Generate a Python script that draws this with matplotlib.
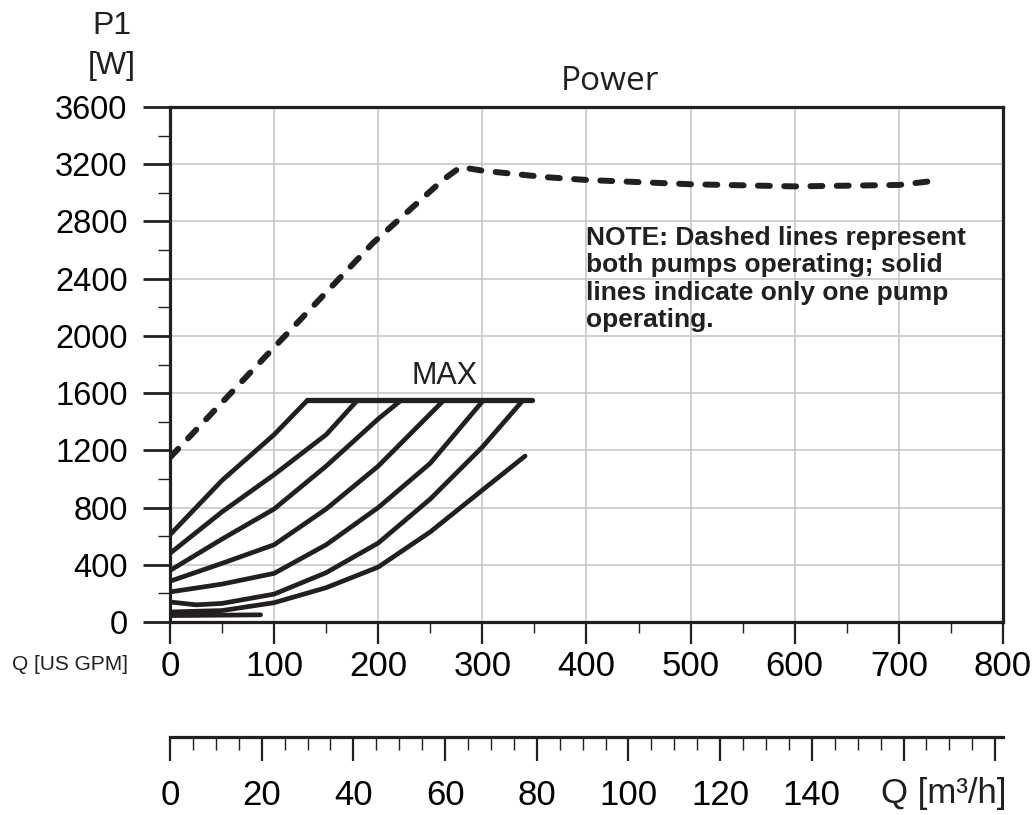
import numpy as np
import matplotlib
matplotlib.use("Agg")
import matplotlib.pyplot as plt
from matplotlib.ticker import MultipleLocator

plt.rcParams["font.family"] = ["Liberation Sans", "DejaVu Sans"]

# dashed curve: both pumps operating (x in US GPM, y in W)
dual_q = [0, 100, 195, 262, 279, 300, 360, 400, 500, 600, 700, 735]
dual_p = [1150, 1920, 2650, 3090, 3180, 3155, 3110, 3090, 3060, 3045, 3055, 3085]

# solid curves: one pump operating
single_curves = [
    ([0, 50, 100, 132], [610, 990, 1310, 1550]),
    ([0, 50, 100, 150, 180], [480, 770, 1030, 1310, 1550]),
    ([0, 50, 100, 150, 200, 222], [360, 580, 790, 1090, 1420, 1550]),
    ([0, 50, 100, 150, 200, 263], [285, 410, 540, 790, 1090, 1550]),
    ([0, 50, 100, 150, 200, 250, 301], [210, 265, 340, 540, 800, 1110, 1550]),
    ([0, 25, 50, 100, 150, 200, 250, 300, 339], [140, 120, 130, 195, 345, 552, 860, 1223, 1550]),
    ([0, 50, 100, 150, 200, 250, 300, 341], [70, 80, 135, 240, 384, 630, 922, 1160]),
    ([0, 50, 87], [45, 48, 50]),
]
max_q = [132, 348]
max_p = [1550, 1550]

gpm_ticks = list(range(0, 801, 100))
p_ticks = list(range(0, 3601, 400))
m3h_ticks = list(range(0, 181, 20))
m3h_labels = ["0", "20", "40", "60", "80", "100", "120", "140", "", ""]
GPM_TO_M3H = 0.22712

INK = "#231f20"
W, H = 1035, 815

fig = plt.figure(figsize=(W / 100, H / 100), dpi=100)
ax = fig.add_axes([170 / W, 193 / H, 833 / W, 515 / H])

ax.plot(dual_q, dual_p, color=INK, lw=4.3, dashes=(2.0, 2.4),
        dash_capstyle="round", zorder=3)
for q, p in single_curves:
    ax.plot(q, p, color=INK, lw=3.4, solid_capstyle="round",
            solid_joinstyle="round", zorder=3)
ax.plot(max_q, max_p, color=INK, lw=3.8, solid_capstyle="round", zorder=3)

ax.set_xlim(0, 800)
ax.set_ylim(0, 3600)
ax.set_xticks(gpm_ticks)
ax.set_yticks(p_ticks)
ax.xaxis.set_minor_locator(MultipleLocator(50))
ax.yaxis.set_minor_locator(MultipleLocator(200))
ax.grid(True, which="major", color="#c8c8c8", lw=1.2, zorder=0)
ax.set_axisbelow(True)

for sp in ax.spines.values():
    sp.set_linewidth(2.3)
    sp.set_color(INK)

ax.tick_params(axis="y", which="major", direction="out", length=19.5,
               width=2.0, labelsize=23.5, pad=11, color=INK)
ax.tick_params(axis="y", which="minor", direction="out", length=9,
               width=1.0, color=INK)
ax.tick_params(axis="x", which="major", direction="out", length=16,
               width=1.6, labelsize=25, pad=4, color=INK)
ax.tick_params(axis="x", which="minor", direction="out", length=8,
               width=1.0, color=INK)

ax.text(264, 1720, "MAX", fontsize=22, ha="center", va="center", color=INK)
ax.text(400, 2770, "NOTE: Dashed lines represent\nboth pumps operating; solid\n"
        "lines indicate only one pump\noperating.", fontsize=19,
        fontweight="bold", ha="left", va="top", linespacing=1.18, color=INK)

# second flow scale in m3/h
ax2 = fig.add_axes([170 / W, (H - 737) / H, 833 / W, 0.0001])
ax2.set_facecolor("none")
for name in ["top", "left", "right"]:
    ax2.spines[name].set_visible(False)
ax2.spines["bottom"].set_linewidth(2.3)
ax2.spines["bottom"].set_color(INK)
ax2.set_xlim(0, 800 * GPM_TO_M3H)
ax2.set_yticks([])
ax2.set_xticks(m3h_ticks)
ax2.set_xticklabels(m3h_labels)
ax2.xaxis.set_minor_locator(MultipleLocator(5))
ax2.tick_params(axis="x", which="major", direction="out", length=17,
                width=1.6, labelsize=25, pad=13, color=INK)
ax2.tick_params(axis="x", which="minor", direction="out", length=9,
                width=1.0, color=INK)

fig.text(944 / W, 1 - 794 / H, "Q [m³/h]", fontsize=25, ha="center",
         va="center", color=INK)
fig.text(70 / W, 1 - 664 / H, "Q [US GPM]", fontsize=15, ha="center",
         va="center", color=INK)
fig.text(112 / W, 1 - 26 / H, "P1", fontsize=23, ha="center", va="center",
         color=INK)
fig.text(112 / W, 1 - 66 / H, "[W]", fontsize=23, ha="center", va="center",
         color=INK)
fig.text(610 / W, 1 - 82 / H, "Power", fontsize=24, ha="center", va="center",
         color=INK, family=["Open Sans", "DejaVu Sans"])

fig.savefig("out.png", dpi=100)
